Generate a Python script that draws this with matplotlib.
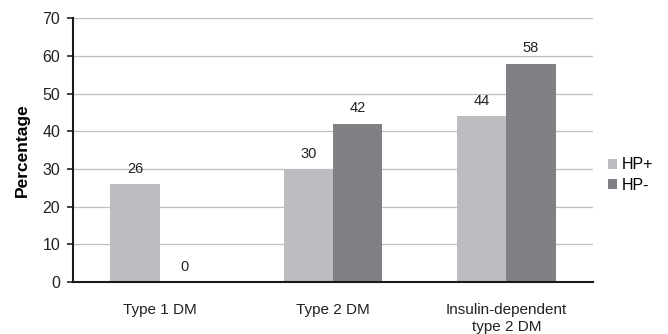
import numpy as np
from matplotlib import pyplot as plt

plt.rcParams['font.family'] = ['Liberation Sans', 'DejaVu Sans']

categories = ['Type 1 DM', 'Type 2 DM', 'Insulin-dependent\ntype 2 DM']
hp_pos = [26, 30, 44]
hp_neg = [0, 42, 58]
series_names = ['HP+', 'HP-']

fig = plt.figure(figsize=(6.68, 3.34), dpi=100)
ax = fig.add_axes([0.109, 0.156, 0.779, 0.789])

x = np.arange(len(categories))
w = 0.283
b1 = ax.bar(x - w/2, hp_pos, w, color='#bcbdc0', label=series_names[0], zorder=2)
b2 = ax.bar(x + w/2, hp_neg, w, color='#808184', label=series_names[1], zorder=2)

for bars, vals in ((b1, hp_pos), (b2, hp_neg)):
    for r, v in zip(bars, vals):
        ax.text(r.get_x() + r.get_width()/2, v + 2.2, str(v),
                ha='center', va='bottom', fontsize=10.5, color='#222222')

ax.set_xlim(-0.5, 2.5)
ax.set_ylim(0, 70)
ax.set_yticks(range(0, 71, 10))
ax.yaxis.grid(True, color='#bfbfbf', linewidth=0.9, zorder=0)
ax.set_axisbelow(True)
ax.set_xticks(x)
ax.set_xticklabels(categories, fontsize=11, color='#222222', linespacing=1.3)
ax.tick_params(axis='x', length=0, pad=15)
ax.tick_params(axis='y', labelsize=11.5, length=4, width=1.2, colors='#222222', pad=5)
for s in ('top', 'right'):
    ax.spines[s].set_visible(False)
for s in ('left', 'bottom'):
    ax.spines[s].set_linewidth(1.5)
    ax.spines[s].set_color('#1a1a1a')
ax.set_ylabel('Percentage', fontsize=12.5, fontweight='bold', labelpad=9)

ax.legend(loc='center left', bbox_to_anchor=(1.0, 0.405), frameon=False,
          fontsize=11.5, handlelength=0.6, handleheight=0.6, handletextpad=0.3,
          labelspacing=0.35)

fig.savefig('out.png', dpi=100)
